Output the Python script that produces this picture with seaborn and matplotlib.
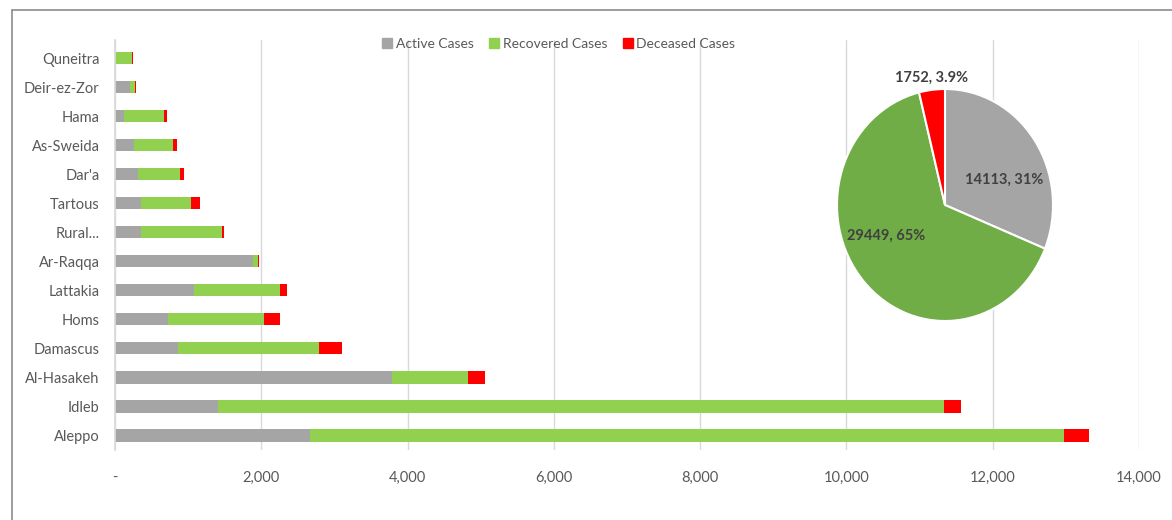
import matplotlib
matplotlib.use("Agg")
import matplotlib.pyplot as plt
import seaborn as sns
import pandas as pd
import numpy as np
from matplotlib.lines import Line2D
from matplotlib.ticker import FuncFormatter

# ---- data ----
governorates = ["Quneitra", "Deir-ez-Zor", "Hama", "As-Sweida", "Dar'a", "Tartous",
                "Rural...", "Ar-Raqqa", "Lattakia", "Homs", "Damascus", "Al-Hasakeh",
                "Idleb", "Aleppo"]
active = [5, 210, 120, 260, 320, 355, 350, 1887, 1075, 720, 864, 3788, 1402, 2664]
recovered = [225, 65, 555, 535, 570, 690, 1114, 72, 1186, 1320, 1930, 1037, 9928, 10305]
deceased = [20, 15, 32, 50, 50, 120, 24, 14, 96, 221, 307, 240, 237, 351]

series_names = ["Active Cases", "Recovered Cases", "Deceased Cases"]
pie_values = [14113, 29449, 1752]
pie_labels = ["14113, 31%", "29449, 65%", "1752, 3.9%"]
x_ticks = [0, 2000, 4000, 6000, 8000, 10000, 12000, 14000]

# ---- style ----
sns.set_theme(style="white")
plt.rcParams["font.family"] = ["Lato", "DejaVu Sans"]
GREY, GREEN, RED = "#A5A5A5", "#92D050", "#FF0000"
PIE_COLORS = ["#A5A5A5", "#70AD47", "#FF0000"]
TXT = "#595959"

df = pd.DataFrame({"gov": governorates, "active": active,
                   "recovered": recovered, "deceased": deceased})
df["c_active"] = df["active"]
df["c_recovered"] = df["active"] + df["recovered"]
df["c_total"] = df["c_recovered"] + df["deceased"]

fig = plt.figure(figsize=(11.72, 5.2), dpi=100)
ax = fig.add_axes([115 / 1172, 1 - 450 / 520, 1024 / 1172, 410 / 520])

for col, color in [("c_total", RED), ("c_recovered", GREEN), ("c_active", GREY)]:
    sns.barplot(data=df, x=col, y="gov", order=governorates, color=color,
                width=0.42, orient="h", ax=ax, saturation=1, linewidth=0)

ax.set_xlim(0, 14000)
ax.set_ylim(13.5, -0.62)
ax.set_xticks(x_ticks)
ax.xaxis.set_major_formatter(FuncFormatter(lambda v, p: "-" if v == 0 else f"{int(v):,}"))
ax.set_xlabel("")
ax.set_ylabel("")
ax.grid(axis="x", color="#D9D9D9", linewidth=1)
ax.set_axisbelow(True)
for s in ["top", "right", "bottom"]:
    ax.spines[s].set_visible(False)
ax.spines["left"].set_color("#D9D9D9")
ax.tick_params(axis="both", length=0, labelsize=10.5, colors=TXT)
ax.tick_params(axis="x", pad=15)
ax.tick_params(axis="y", pad=11)

handles = [Line2D([0], [0], marker="s", linestyle="", markersize=7,
                  markerfacecolor=c, markeredgecolor=c)
           for c in [GREY, GREEN, RED]]
fig.legend(handles, series_names, loc="center", ncol=3, frameon=False,
           bbox_to_anchor=(558 / 1172, 1 - 44 / 520), fontsize=10,
           labelcolor=TXT, handletextpad=0.1, columnspacing=1.0, handlelength=1.0)

# ---- pie ----
pax = fig.add_axes([837 / 1172, 1 - 321 / 520, 216 / 1172, 232 / 520])
wedges, _ = pax.pie(pie_values, colors=PIE_COLORS, startangle=90, counterclock=False,
                    wedgeprops=dict(edgecolor="white", linewidth=1.5))
pax.set_aspect("auto")
pax.set_xlim(-1, 1)
pax.set_ylim(-1, 1)
pax.axis("off")
radii = [0.59, 0.61, 1.10]
ang_shift = [-12.6, -15.0, -0.7]
for w, lab, r, sh in zip(wedges, pie_labels, radii, ang_shift):
    ang = np.deg2rad((w.theta1 + w.theta2) / 2 + sh)
    pax.text(r * np.cos(ang), r * np.sin(ang), lab, ha="center", va="center",
             fontsize=10.5, fontweight="bold", color="#404040")

# chart border (left and top)
fig.add_artist(Line2D([12 / 1172, 12 / 1172], [0, 1 - 10 / 520], color="#8C8C8C",
                      linewidth=1.2, transform=fig.transFigure))
fig.add_artist(Line2D([12 / 1172, 1], [1 - 10 / 520, 1 - 10 / 520], color="#8C8C8C",
                      linewidth=1.2, transform=fig.transFigure))

fig.savefig("out.png", dpi=100)
